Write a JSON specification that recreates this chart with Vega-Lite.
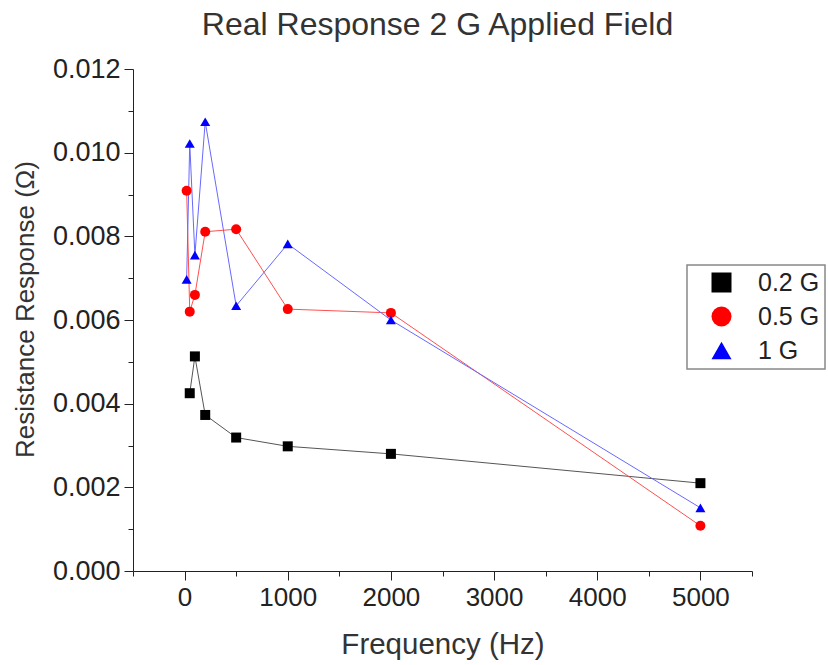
{
  "$schema": "https://vega.github.io/schema/vega-lite/v6.json",
  "width": 619,
  "height": 502,
  "autosize": "none",
  "padding": {"left": 133, "top": 69, "right": 76, "bottom": 94},
  "background": "white",
  "title": {
    "text": "Real Response 2 G Applied Field",
    "font": "Liberation Sans",
    "fontSize": 32,
    "fontWeight": "normal",
    "color": "#333333",
    "anchor": "middle",
    "offset": 13,
    "dx": -5
  },
  "data": {
    "values": [
      {"series": "0.2 G", "freq": 50, "value": 0.00425},
      {"series": "0.2 G", "freq": 100, "value": 0.00513},
      {"series": "0.2 G", "freq": 200, "value": 0.00373},
      {"series": "0.2 G", "freq": 500, "value": 0.00319},
      {"series": "0.2 G", "freq": 1000, "value": 0.00298},
      {"series": "0.2 G", "freq": 2000, "value": 0.00280},
      {"series": "0.2 G", "freq": 5000, "value": 0.00210},
      {"series": "0.5 G", "freq": 20, "value": 0.00909},
      {"series": "0.5 G", "freq": 50, "value": 0.00620},
      {"series": "0.5 G", "freq": 100, "value": 0.00660},
      {"series": "0.5 G", "freq": 200, "value": 0.00811},
      {"series": "0.5 G", "freq": 500, "value": 0.00817},
      {"series": "0.5 G", "freq": 1000, "value": 0.00626},
      {"series": "0.5 G", "freq": 2000, "value": 0.00617},
      {"series": "0.5 G", "freq": 5000, "value": 0.00108},
      {"series": "1 G", "freq": 20, "value": 0.00697},
      {"series": "1 G", "freq": 50, "value": 0.01022},
      {"series": "1 G", "freq": 100, "value": 0.00755},
      {"series": "1 G", "freq": 200, "value": 0.01074},
      {"series": "1 G", "freq": 500, "value": 0.00634},
      {"series": "1 G", "freq": 1000, "value": 0.00782},
      {"series": "1 G", "freq": 2000, "value": 0.00600},
      {"series": "1 G", "freq": 5000, "value": 0.00151}
    ]
  },
  "encoding": {
    "x": {
      "field": "freq",
      "type": "quantitative",
      "scale": {"domain": [-500, 5500], "nice": false, "zero": false},
      "axis": {
        "title": "Frequency (Hz)",
        "values": [-500, 0, 500, 1000, 1500, 2000, 2500, 3000, 3500, 4000, 4500, 5000, 5500],
        "labelExpr": "datum.value % 1000 == 0 ? format(datum.value, 'd') : ''",
        "tickSize": {"condition": {"test": "datum.value % 1000 != 0", "value": 5}, "value": 9},
        "grid": false,
        "domainColor": "#222222",
        "tickColor": "#222222",
        "labelFont": "Liberation Sans",
        "labelFontSize": 26,
        "labelColor": "#222222",
        "labelPadding": 4,
        "labelFlush": false,
        "labelOverlap": false,
        "titleFont": "Liberation Sans",
        "titleFontSize": 29.5,
        "titleFontWeight": "normal",
        "titleColor": "#333333",
        "titlePadding": 20
      }
    },
    "y": {
      "field": "value",
      "type": "quantitative",
      "scale": {"domain": [0, 0.012], "nice": false},
      "axis": {
        "title": "Resistance Response (Ω)",
        "values": [0, 0.001, 0.002, 0.003, 0.004, 0.005, 0.006, 0.007, 0.008, 0.009, 0.010, 0.011, 0.012],
        "labelExpr": "round(datum.value * 1000) % 2 == 0 ? format(datum.value, '.3f') : ''",
        "tickSize": {"condition": {"test": "round(datum.value * 1000) % 2 == 1", "value": 5}, "value": 9},
        "grid": false,
        "domainColor": "#222222",
        "tickColor": "#222222",
        "labelFont": "Liberation Sans",
        "labelFontSize": 27,
        "labelColor": "#222222",
        "labelPadding": 4,
        "labelFlush": false,
        "labelOverlap": false,
        "titleFont": "Liberation Sans",
        "titleFontSize": 26,
        "titleFontWeight": "normal",
        "titleColor": "#333333",
        "titlePadding": 14,
        "titleY": 240
      }
    }
  },
  "layer": [
    {
      "mark": {"type": "line", "strokeWidth": 1},
      "encoding": {
        "stroke": {
          "field": "series",
          "type": "nominal",
          "scale": {"range": ["#555555", "#ff5050", "#6868ff"]},
          "legend": null
        }
      }
    },
    {
      "mark": {"type": "point", "filled": true, "opacity": 1, "size": 100},
      "encoding": {
        "color": {
          "field": "series",
          "type": "nominal",
          "scale": {"domain": ["0.2 G", "0.5 G", "1 G"], "range": ["#000000", "#ff0000", "#0000ff"]},
          "legend": {
            "title": null,
            "orient": "none",
            "legendX": 554,
            "legendY": 196,
            "padding": 5,
            "strokeColor": "#888888",
            "fillColor": "white",
            "labelFont": "Liberation Sans",
            "labelFontSize": 25,
            "labelColor": "#222222",
            "symbolSize": 400,
            "symbolOffset": 17,
            "labelOffset": 24,
            "rowPadding": 8,
            "encode": {
              "symbols": {
                "shape": {"value": {"expr": "datum.value == '0.2 G' ? 'M-2.85,0H2.85M-0.45,-0.45H0.45V0.45H-0.45Z' : datum.value == '0.5 G' ? 'M-2.85,0H2.85M-0.5,0A0.5,0.5 0 1,0 0.5,0A0.5,0.5 0 1,0 -0.5,0Z' : 'M-2.85,0H2.85M0,-0.55L0.55,0.42H-0.55Z'"}},
                "size": {"value": 400},
                "fill": {"value": {"expr": "datum.value == '0.2 G' ? '#000000' : datum.value == '0.5 G' ? '#ff0000' : '#0000ff'"}},
                "stroke": {"value": {"expr": "datum.value == '0.2 G' ? '#555555' : datum.value == '0.5 G' ? '#ff5050' : '#6868ff'"}},
                "strokeWidth": {"value": 1},
                "opacity": {"value": 1},
                "fillOpacity": {"value": 1},
                "strokeOpacity": {"value": 1}
              }
            }
          }
        },
        "shape": {
          "field": "series",
          "type": "nominal",
          "scale": {"domain": ["0.2 G", "0.5 G", "1 G"], "range": ["square", "circle", "triangle-up"]},
          "legend": {
            "title": null,
            "orient": "none",
            "legendX": 554,
            "legendY": 196,
            "padding": 5,
            "strokeColor": "#888888",
            "fillColor": "white",
            "labelFont": "Liberation Sans",
            "labelFontSize": 25,
            "labelColor": "#222222",
            "symbolSize": 400,
            "symbolOffset": 17,
            "labelOffset": 24,
            "rowPadding": 8,
            "encode": {
              "symbols": {
                "shape": {"value": {"expr": "datum.value == '0.2 G' ? 'M-2.85,0H2.85M-0.45,-0.45H0.45V0.45H-0.45Z' : datum.value == '0.5 G' ? 'M-2.85,0H2.85M-0.5,0A0.5,0.5 0 1,0 0.5,0A0.5,0.5 0 1,0 -0.5,0Z' : 'M-2.85,0H2.85M0,-0.55L0.55,0.42H-0.55Z'"}},
                "size": {"value": 400},
                "fill": {"value": {"expr": "datum.value == '0.2 G' ? '#000000' : datum.value == '0.5 G' ? '#ff0000' : '#0000ff'"}},
                "stroke": {"value": {"expr": "datum.value == '0.2 G' ? '#555555' : datum.value == '0.5 G' ? '#ff5050' : '#6868ff'"}},
                "strokeWidth": {"value": 1},
                "opacity": {"value": 1},
                "fillOpacity": {"value": 1},
                "strokeOpacity": {"value": 1}
              }
            }
          }
        }
      }
    }
  ],
  "config": {
    "view": {"stroke": null},
    "legend": {"strokeWidth": 1.5}
  }
}
